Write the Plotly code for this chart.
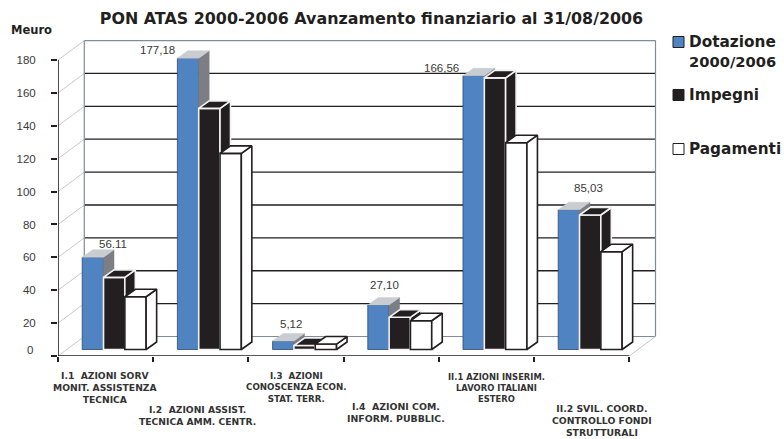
import numpy as np
import plotly.graph_objects as go

# ---- data ----
categories = [
    "I.1  AZIONI SORV<br>MONIT. ASSISTENZA<br>TECNICA",
    "I.2  AZIONI ASSIST.<br>TECNICA AMM. CENTR.",
    "I.3  AZIONI<br>CONOSCENZA ECON.<br>STAT. TERR.",
    "I.4  AZIONI COM.<br>INFORM. PUBBLIC.",
    "II.1 AZIONI INSERIM.<br>LAVORO ITALIANI<br>ESTERO",
    "II.2 SVIL. COORD.<br>CONTROLLO FONDI<br>STRUTTURALI",
]
dotazione = [56.11, 177.18, 5.12, 27.10, 166.56, 85.03]
impegni = [43.9, 146.7, 2.4, 19.6, 165.2, 81.8]
pagamenti = [32.1, 119.3, 3.3, 17.5, 125.8, 59.5]
value_labels = ["56.11", "177,18", "5,12", "27,10", "166,56", "85,03"]
y_ticks = [0, 20, 40, 60, 80, 100, 120, 140, 160, 180]
title_text = "PON ATAS 2000-2006 Avanzamento finanziario al 31/08/2006"
unit_text = "Meuro"

# ---- layout geometry (pixels) ----
W, H = 784, 439
L, R, T, B = 58, 660, 40, 356
CAT_PX = 95.2
PX_UNIT = 1.644
xmax = (R - L) / CAT_PX
ymax = (B - T) / PX_UNIT
WALL_DX, WALL_DY = 26.3 / CAT_PX, 19.5 / PX_UNIT
BAR_DX, BAR_DY = 10.5 / CAT_PX, 7.5 / PX_UNIT
BASE = 6.5 / PX_UNIT
BAR_W = 21.3 / CAT_PX
OFFS = [0.366, 0.590, 0.814]
AX = "#231f20"
WALL = "#7f8c9a"
SANS = "Liberation Sans"
WIDE = "DejaVu Sans"

def px(x):
    return (x - L) / (R - L)

def py(y):
    return (B - y) / (B - T)

fig = go.Figure()
idx = np.arange(len(categories))

# ---- walls (bottom layer) ----
def line(xs, ys, color, width):
    fig.add_trace(go.Scatter(x=xs, y=ys, mode="lines", showlegend=False, hoverinfo="skip",
                             cliponaxis=False, line=dict(color=color, width=width)))

n = len(categories)
for v in y_ticks:
    if v > 0:
        line([WALL_DX, n + WALL_DX], [v + WALL_DY] * 2, WALL if v == 180 else AX, 1.3)
    line([0, WALL_DX], [v, v + WALL_DY], "#c9c9c9", 1)
line([WALL_DX, n + WALL_DX], [WALL_DY] * 2, WALL, 1.2)
line([WALL_DX, WALL_DX], [WALL_DY, 180 + WALL_DY], WALL, 1.2)
line([n + WALL_DX] * 2, [WALL_DY, 180 + WALL_DY], WALL, 1.2)
line([n, n + WALL_DX], [0, WALL_DY], "#c9c9c9", 1)
line([0, n], [0, 0], AX, 1.6)
line([0, 0], [0, 180], AX, 1.6)

# ---- bars, one overlaid subplot per series so they stack back to front ----
series = [
    ("Dotazione 2000/2006", dotazione, "#5083c1", "#7b7f83", "#c9cdd1", "#2f4a68", 0.8),
    ("Impegni", impegni, AX, AX, AX, "#f2f2f2", 1.6),
    ("Pagamenti", pagamenti, "#ffffff", "#ffffff", "#ffffff", AX, 1.6),
]
for s, (name, vals, front, side, top, edge, ew) in enumerate(series):
    xa, ya = f"x{s + 2}", f"y{s + 2}"
    xc = idx + OFFS[s]
    vals = np.array(vals)
    fig.add_trace(go.Bar(x=xc, y=vals, base=BASE, width=BAR_W, name=name, xaxis=xa, yaxis=ya,
                         marker=dict(color=front, line=dict(color=edge, width=ew)), showlegend=False))
    sx, sy, tx, ty = [], [], [], []
    for c, v in zip(xc, vals):
        xl, xr, yt = c - BAR_W / 2, c + BAR_W / 2, v + BASE
        sx += [xr, xr + BAR_DX, xr + BAR_DX, xr, xr, None]
        sy += [BASE, BASE + BAR_DY, yt + BAR_DY, yt, BASE, None]
        tx += [xl, xl + BAR_DX, xr + BAR_DX, xr, xl, None]
        ty += [yt, yt + BAR_DY, yt + BAR_DY, yt, yt, None]
    for fx, fy, col in ((sx, sy, side), (tx, ty, top)):
        fig.add_trace(go.Scatter(x=fx, y=fy, mode="lines", fill="toself", fillcolor=col, xaxis=xa, yaxis=ya,
                                 showlegend=False, hoverinfo="skip", cliponaxis=False,
                                 line=dict(color=(col if s == 0 else edge), width=(0.5 if s == 0 else 1.6))))

annos = []
def note(text, x, y, size, color=AX, bold=False, family=SANS, xanchor="center", align="center"):
    annos.append(dict(text=f"<b>{text}</b>" if bold else text, x=px(x), y=py(y), xref="paper", yref="paper",
                      xanchor=xanchor, yanchor="middle", align=align, showarrow=False,
                      font=dict(size=size, color=color, family=family)))

# value labels
label_x = [113, 157, 291, 384, 441.7, 588]
label_y = [243.5, 49.5, 324, 285, 68, 188]
for t, x, y in zip(value_labels, label_x, label_y):
    note(t, x, y, 11.5, "#3a3a3a")

# category labels
cat_x = [105, 197.5, 296, 396, 496, 602]
cat_y = [387.5, 415.5, 387.5, 412.5, 388, 420]
cat_size = [9.2, 9.2, 8.7, 9.4, 8.4, 9.3]
for t, x, y, sz in zip(categories, cat_x, cat_y, cat_size):
    note(t, x, y, sz, "#333333", bold=True, family=WIDE)

note("0", 30, 350, 11.5, "#3a3a3a")
note(unit_text, 31.5, 30, 11.5, "#231f20", bold=True, family=WIDE)

# legend
legend_y = [42, 95, 149]
legend_names = ["Dotazione", "Impegni", "Pagamenti"]
legend_cols = ["#5083c1", AX, "#ffffff"]
shapes = []
for nm, y, c in zip(legend_names, legend_y, legend_cols):
    note(nm, 687, y, 15.3, AX, bold=True, family=WIDE, xanchor="left")
    shapes.append(dict(type="rect", xref="paper", yref="paper", x0=px(673), x1=px(684), y0=py(y + 5.5), y1=py(y - 5.5),
                       fillcolor=c, line=dict(color=AX, width=1)))
note("2000/2006", 687, 61, 14.7, AX, bold=True, family=WIDE, xanchor="left")

hidden = dict(range=[0, xmax], visible=False, fixedrange=True)
hiddeny = dict(range=[0, ymax], visible=False, fixedrange=True)
fig.update_layout(
    width=W, height=H, margin=dict(l=L, r=W - R, t=T, b=H - B), autosize=False,
    paper_bgcolor="white", plot_bgcolor="white", barmode="overlay", showlegend=False,
    font=dict(family=SANS, color="#3a3a3a"),
    title=dict(text=f"<b>{title_text}</b>", x=(100 + 643) / 2 / W, xanchor="center", y=1 - 18 / H, yanchor="middle",
               font=dict(size=15.9, color=AX, family=WIDE)),
    xaxis=dict(range=[0, xmax], tickmode="array", tickvals=list(range(n + 1)), showticklabels=False,
               ticks="outside", ticklen=5, tickcolor=AX, tickwidth=1.5, showgrid=False, zeroline=False, showline=False),
    yaxis=dict(range=[0, ymax], tickmode="array", tickvals=y_ticks,
               ticktext=[str(v) if v else "" for v in y_ticks], ticks="outside", ticklen=6, tickcolor=AX, tickwidth=1.5,
               ticklabelstandoff=13, tickfont=dict(size=11.5, color="#3a3a3a"), showgrid=False, zeroline=False, showline=False),
    xaxis2=dict(overlaying="x", **hidden), yaxis2=dict(overlaying="y", **hiddeny),
    xaxis3=dict(overlaying="x", **hidden), yaxis3=dict(overlaying="y", **hiddeny),
    xaxis4=dict(overlaying="x", **hidden), yaxis4=dict(overlaying="y", **hiddeny),
    annotations=annos, shapes=shapes,
)
fig.write_html("out.html", config={"displayModeBar": False},
               post_script="document.body.style.margin='0';document.body.style.overflow='hidden';")
